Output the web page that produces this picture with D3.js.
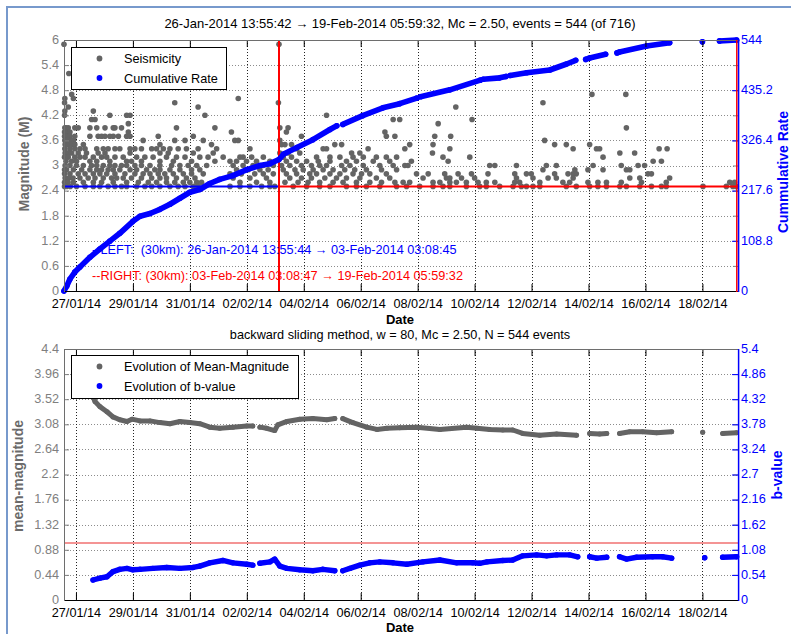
<!DOCTYPE html>
<html>
<head>
<meta charset="utf-8">
<script src="https://cdn.jsdelivr.net/npm/d3@7"></script>
<style>
  body { margin: 0; background: #fff; }
  svg { display: block; font-family: "Liberation Sans", Arial, sans-serif; }
</style>
</head>
<body>
<svg id="chart" width="791" height="634"></svg>
<script>
// ---- catalogue window and split ----
const startTime = Date.UTC(2014, 0, 26, 13, 55, 42);
const endTime = Date.UTC(2014, 1, 19, 5, 59, 32);
const dayZero = Date.UTC(2014, 0, 27);          // day offsets are counted from 27-Jan-2014 00:00
const splitDay = 7 + (3 * 3600 + 8 * 60 + 46) / 86400; // 03-Feb-2014 03:08:46
const mc = 2.5;
const bReference = 1.0;

// ---- tick values ----
const dateTickDays = [0, 2, 4, 6, 8, 10, 12, 14, 16, 18, 20, 22];
const magTicks = [0, 0.6, 1.2, 1.8, 2.4, 3, 3.6, 4.2, 4.8, 5.4, 6];
const cumTicks = [0, 108.8, 217.6, 326.4, 435.2, 544];
const meanTicks = [0, 0.44, 0.88, 1.32, 1.76, 2.2, 2.64, 3.08, 3.52, 3.96, 4.4];
const bTicks = [0, 0.54, 1.08, 1.62, 2.16, 2.7, 3.24, 3.78, 4.32, 4.86, 5.4];

// ---- seismicity: [magnitude, [event times in days]] ----
const seismicity = [
  [5.9, [-0.42, 7.13]],
  [5.2, [-0.25]],
  [4.7, [-0.15, 18.12, 19.31]],
  [4.6, [-0.39, -0.09, 5.70]],
  [4.5, [-0.40, 3.47, 7.11, 16.40]],
  [4.4, [-0.27, 4.29, 13.34]],
  [4.3, [-0.39, 0.61]],
  [4.2, [-0.40, 1.19, 1.78, 1.90, 4.53, 8.80]],
  [4.1, [0.55, 0.67, 11.14, 11.37, 13.91]],
  [4.0, [1.84, 12.72]],
  [3.9, [-0.39, -0.35, -0.27, -0.04, 0.08, 0.49, 0.73, 1.02, 1.31, 1.37, 1.60, 3.53, 4.88, 7.16, 7.45, 19.33]],
  [3.8, [-0.40, -0.33, -0.21, 1.84, 5.46, 7.39, 10.85]],
  [3.7, [-0.40, -0.33, -0.21, -0.04, 0.49, 0.78, 0.90, 1.02, 1.19, 1.31, 1.49, 1.78, 1.90, 2.89, 4.12, 7.92, 10.90, 11.20, 12.60, 13.16]],
  [3.6, [-0.39, -0.30, -0.18, -0.09, 2.36, 3.47, 3.83, 4.47, 5.58, 5.70, 7.16, 16.46]],
  [3.5, [-0.38, -0.33, -0.25, -0.12, -0.04, 0.26, 2.95, 4.76, 7.22, 7.34, 7.57, 9.09, 9.33, 11.72, 12.54, 16.81, 17.22, 18.04]],
  [3.4, [-0.39, -0.21, -0.04, 0.14, 0.32, 0.73, 0.96, 1.13, 1.37, 1.54, 1.90, 2.07, 2.30, 2.66, 2.83, 3.07, 3.30, 3.59, 3.88, 4.29, 4.94, 6.11, 7.75, 8.68, 8.80, 10.26, 11.55, 13.13, 17.46, 18.28, 18.39, 20.48, 20.76]],
  [3.3, [-0.38, -0.33, -0.27, -0.15, 0.08, 0.37, 0.78, 1.02, 1.90, 2.95, 3.24, 4.12, 4.82, 7.16, 7.45, 7.86, 9.68, 9.97, 12.52, 19.10, 19.62]],
  [3.2, [-0.40, -0.27, -0.04, 0.14, 0.32, 0.61, 0.90, 1.08, 1.37, 1.66, 2.13, 2.42, 2.71, 3.18, 3.53, 3.83, 4.35, 4.64, 5.17, 5.76, 5.87, 6.17, 6.58, 7.28, 7.57, 8.45, 8.92, 9.27, 9.73, 10.09, 10.55, 10.90, 11.26, 12.89, 13.83, 18.51]],
  [3.1, [-0.35, -0.15, 0.02, 0.49, 0.73, 1.19, 1.78, 1.95, 2.30, 2.95, 3.42, 4.06, 4.88, 5.41, 5.64, 5.99, 6.34, 6.81, 7.39, 7.75, 8.10, 8.51, 8.92, 9.50, 9.85, 10.44, 11.02, 11.78, 13.07, 20.27, 20.56]],
  [3.0, [-0.38, -0.21, 0.02, 0.26, 0.55, 0.73, 0.96, 1.19, 1.37, 1.60, 1.78, 2.07, 2.30, 2.60, 2.95, 3.36, 3.65, 3.94, 4.24, 4.59, 5.52, 5.87, 6.22, 6.58, 6.93, 7.22, 7.51, 7.92, 8.27, 8.56, 8.80, 9.33, 9.62, 10.09, 10.67, 11.14, 11.55, 11.66, 14.53, 14.71, 15.47, 16.52, 16.87, 18.16, 19.15, 19.74, 19.97]],
  [2.9, [-0.40, -0.33, -0.09, 0.20, 0.49, 0.73, 0.90, 1.13, 1.31, 1.54, 1.90, 2.13, 2.48, 2.77, 2.95, 3.30, 3.65, 4.06, 4.35, 5.64, 6.05, 6.46, 6.75, 7.28, 7.69, 7.98, 8.33, 8.68, 9.03, 9.44, 9.79, 10.20, 10.73, 11.26, 16.40, 17.52, 17.98, 18.51, 19.33, 19.45]],
  [2.8, [-0.40, -0.21, 0.08, 0.32, 0.61, 0.84, 1.08, 1.37, 1.72, 2.07, 2.36, 2.60, 2.89, 3.12, 3.42, 3.77, 4.06, 4.47, 5.41, 5.81, 6.28, 6.58, 6.93, 7.39, 7.75, 8.21, 8.45, 8.92, 9.27, 9.73, 10.03, 10.32, 10.90, 11.96, 12.37, 12.95, 13.42, 13.89, 14.47, 15.41, 15.82, 15.99, 16.81, 17.28, 17.46, 17.57, 20.09, 20.21]],
  [2.7, [-0.38, -0.25, -0.10, 0.14, 0.43, 0.67, 0.96, 1.25, 1.43, 1.66, 1.95, 2.30, 2.66, 2.95, 3.18, 3.53, 3.88, 4.18, 5.52, 6.11, 6.69, 7.51, 7.92, 8.27, 8.74, 9.15, 9.50, 9.97, 10.55, 11.02, 12.19, 13.01, 13.13, 13.54, 14.00, 15.47, 16.05, 16.58, 16.87, 17.46, 19.45, 19.80, 20.85]],
  [2.6, [-0.40, -0.28, -0.09, 0.26, 0.61, 0.90, 1.31, 1.78, 2.19, 2.54, 2.83, 3.18, 3.47, 3.77, 4.00, 4.24, 4.41, 5.76, 6.34, 6.81, 7.34, 7.80, 8.15, 8.56, 9.03, 9.38, 9.85, 10.32, 10.73, 11.20, 11.49, 11.72, 12.54, 12.78, 13.13, 13.36, 13.71, 14.12, 14.41, 14.71, 15.41, 15.58, 16.29, 17.10, 17.34, 17.98, 18.33, 18.63, 19.15, 19.86, 20.73, 22.96, 23.13]],
  [2.5, [-0.40, -0.33, -0.20, 0.02, 0.32, 0.61, 0.84, 1.13, 1.37, 1.60, 1.78, 2.13, 2.42, 2.66, 2.95, 3.30, 3.59, 3.83, 4.12, 4.29, 5.41, 5.76, 6.11, 6.52, 6.81, 6.98, 7.63, 8.10, 8.56, 8.92, 9.50, 9.85, 10.20, 10.67, 11.26, 11.61, 12.07, 12.54, 12.89, 13.13, 13.71, 14.18, 14.41, 14.88, 15.35, 15.64, 15.82, 16.05, 16.29, 17.22, 17.57, 18.04, 18.33, 18.63, 19.10, 19.33, 19.80, 20.21, 20.56, 20.73, 22.02, 22.84, 23.07, 23.19]]
];

// ---- cumulative number of events: [day, count], null = no events in between ----
const cumulativeRate = [
  [-0.42, 0], [-0.32, 11], [-0.21, 26], [-0.04, 41], [0.14, 52], [0.49, 73], [0.84, 91],
  [1.19, 108], [1.54, 125], [2.0, 151], [2.25, 162], [2.6, 168], [2.95, 177], [3.3, 188],
  [3.65, 201], [4.0, 214], [4.35, 220], [4.7, 233], [5.05, 242], [5.51, 250], [6.0, 263],
  [6.46, 272], [6.81, 276], [7.13, 285], [7.3, 297], [7.76, 311], [8.32, 328], [8.92, 350], [9.16, 358],
  null,
  [9.37, 361], [10.07, 380], [10.78, 397], [11.37, 406], [11.97, 418],
  null,
  [12.1, 421], [13.13, 436], [14.2, 457],
  null,
  [14.3, 459], [14.88, 462], [15.1, 465],
  null,
  [15.25, 467], [15.83, 473], [16.64, 479], [17.23, 492], [17.55, 500],
  null,
  [17.9, 502], [18.04, 505], [18.6, 513],
  null,
  [19.0, 516], [19.09, 518], [20.04, 531], [20.85, 538],
  null,
  [22.0, 540],
  null,
  [22.6, 542], [23.2, 544]
];

// ---- sliding-window results: [day, value] ----
const meanMagnitude = [
  [0.60, 3.56], [0.67, 3.48], [0.84, 3.39], [1.09, 3.30], [1.30, 3.21], [1.54, 3.16], [1.79, 3.13],
  [1.97, 3.17], [2.25, 3.14], [2.60, 3.14], [2.95, 3.11], [3.30, 3.09], [3.65, 3.13], [4.00, 3.11],
  [4.35, 3.09], [4.70, 3.03], [5.05, 3.01], [5.51, 3.03], [6.00, 3.05], [6.21, 3.05],
  null,
  [6.46, 3.03], [6.70, 3.01], [6.98, 2.97], [7.09, 3.07], [7.41, 3.13], [7.86, 3.17], [8.32, 3.18],
  [8.81, 3.16], [9.09, 3.18],
  null,
  [9.37, 3.18], [9.72, 3.11], [10.21, 3.03], [10.57, 2.99], [10.92, 3.01], [11.37, 3.02], [11.97, 3.03],
  [12.78, 2.99], [13.72, 3.03], [14.08, 3.01], [14.53, 2.99], [14.99, 2.98], [15.34, 2.98], [15.69, 2.92],
  [16.29, 2.89], [16.88, 2.91], [17.58, 2.89],
  null,
  [18.04, 2.92], [18.39, 2.91], [18.64, 2.92],
  null,
  [19.09, 2.92], [19.45, 2.95], [19.90, 2.95], [20.39, 2.93], [20.92, 2.95],
  null,
  [22.01, 2.94],
  null,
  [22.71, 2.92], [23.2, 2.93]
];

const bValue = [
  [0.60, 0.43], [0.84, 0.47], [1.09, 0.50], [1.30, 0.61], [1.54, 0.66], [1.79, 0.68], [2.00, 0.65],
  [2.25, 0.66], [2.70, 0.68], [3.19, 0.70], [3.65, 0.68], [4.11, 0.70], [4.35, 0.73], [4.70, 0.80],
  [5.16, 0.85], [5.51, 0.80], [6.00, 0.77], [6.21, 0.75],
  null,
  [6.46, 0.79], [6.81, 0.82], [6.98, 0.88], [7.16, 0.73], [7.41, 0.68], [7.86, 0.65], [8.32, 0.63],
  [8.67, 0.66], [9.09, 0.63],
  null,
  [9.37, 0.63], [9.62, 0.68], [9.97, 0.75], [10.32, 0.80], [10.67, 0.82], [11.13, 0.80], [11.62, 0.77],
  [12.18, 0.82], [12.78, 0.86], [13.37, 0.80], [13.93, 0.80], [14.18, 0.79], [14.43, 0.82], [14.99, 0.85],
  [15.34, 0.86], [15.69, 0.95], [16.18, 0.97], [16.53, 0.95], [16.88, 0.97], [17.34, 0.97], [17.62, 0.93],
  null,
  [18.04, 0.93], [18.29, 0.90], [18.64, 0.92],
  null,
  [19.09, 0.93], [19.34, 0.88], [19.69, 0.92], [20.25, 0.93], [20.60, 0.93], [20.92, 0.90],
  null,
  [22.08, 0.91],
  null,
  [22.71, 0.92], [23.2, 0.93]
];

// ---- layout ----
const svg = d3.select("#chart");
const L = 64, R = 738;
const top1 = 40, bot1 = 291, top2 = 349, bot2 = 600;
const FONT = "'Liberation Sans', Arial, sans-serif";
const FS = 12.7;
const GRAY = "#646464", AXGRAY = "#7f7f7f", BLUE = "#0000ff", RED = "#ff0000";

const toDate = d => new Date(dayZero + d * 864e5);
const x = d3.scaleTime().domain([new Date(startTime), new Date(endTime)]).range([L, R]);
const yMag = d3.scaleLinear().domain([0, 6]).range([bot1, top1]);
const yCum = d3.scaleLinear().domain([0, 544]).range([bot1, top1]);
const yMean = d3.scaleLinear().domain([0, 4.4]).range([bot2, top2]);
const yB = d3.scaleLinear().domain([0, 5.4]).range([bot2, top2]);
const crisp = v => Math.round(v) + 0.5;
const fmtDate = d3.utcFormat("%d/%m/%y");

svg.append("rect").attr("width", 791).attr("height", 634).attr("fill", "#fff");
// figure frame
svg.append("path").attr("d", "M7,634V7H791").attr("fill", "none")
  .attr("stroke", "#7799cc").attr("stroke-width", 2);

function drawGrid(top, bot, yScale, ticks) {
  const g = svg.append("g");
  g.selectAll("line.h").data(ticks.slice(1, -1)).join("line")
    .attr("x1", L).attr("x2", R)
    .attr("y1", v => crisp(yScale(v))).attr("y2", v => crisp(yScale(v)))
    .attr("stroke", "#8c8c8c").attr("stroke-dasharray", "1,2");
  g.selectAll("line.v").data(dateTickDays).join("line")
    .attr("x1", d => crisp(x(toDate(d)))).attr("x2", d => crisp(x(toDate(d))))
    .attr("y1", top).attr("y2", bot)
    .attr("stroke", "#222").attr("stroke-dasharray", "1,2");
}

function drawTrack(yScale, data, color, width) {
  const g = svg.append("g");
  const line = d3.line().defined(p => p !== null)
    .x(p => x(toDate(p[0]))).y(p => yScale(p[1]));
  g.append("path").datum(data).attr("d", line)
    .attr("fill", "none").attr("stroke", color).attr("stroke-width", width)
    .attr("stroke-linecap", "round").attr("stroke-linejoin", "round");
  g.selectAll("circle").data(data.filter(p => p !== null)).join("circle")
    .attr("cx", p => x(toDate(p[0]))).attr("cy", p => yScale(p[1]))
    .attr("r", width / 2).attr("fill", color);
}

function styleAxis(g, color, showText) {
  g.attr("font-family", FONT).attr("font-size", FS);
  g.select(".domain").remove();
  g.selectAll(".tick line").attr("stroke", color);
  if (showText) g.selectAll(".tick text").attr("fill", color);
  else g.selectAll(".tick text").remove();
}

function drawAxes(top, bot, yLeft, leftTicks, yRight, rightTicks, rightEdgeRed) {
  // x ticks, bottom (labelled) and top
  const xb = svg.append("g").attr("transform", `translate(0,${bot})`)
    .call(d3.axisBottom(x).tickValues(dateTickDays.map(toDate)).tickFormat(fmtDate).tickSize(-7).tickPadding(8));
  styleAxis(xb, "#000", true);
  const xt = svg.append("g").attr("transform", `translate(0,${top})`)
    .call(d3.axisTop(x).tickValues(dateTickDays.map(toDate)).tickSize(-7));
  styleAxis(xt, "#000", false);
  // left axis
  const yl = svg.append("g").attr("transform", `translate(${L},0)`)
    .call(d3.axisLeft(yLeft).tickValues(leftTicks).tickFormat(v => String(v)).tickSize(-5).tickPadding(5));
  styleAxis(yl, AXGRAY, true);
  yl.selectAll(".tick text").attr("dy", "0.26em");
  // mirrored ticks of the left axis on the right edge
  const ym = svg.append("g").attr("transform", `translate(${R},0)`)
    .call(d3.axisRight(yLeft).tickValues(leftTicks).tickSize(-5));
  styleAxis(ym, AXGRAY, false);
  // right axis
  const yr = svg.append("g").attr("transform", `translate(${R},0)`)
    .call(d3.axisRight(yRight).tickValues(rightTicks).tickFormat(v => String(v)).tickSize(-6).tickPadding(3));
  styleAxis(yr, BLUE, true);
  yr.selectAll(".tick text").attr("dy", "0.26em");
  // box
  svg.append("line").attr("x1", L).attr("x2", R).attr("y1", top + 0.5).attr("y2", top + 0.5).attr("stroke", "#6e6e6e");
  svg.append("line").attr("x1", L).attr("x2", R).attr("y1", bot + 0.5).attr("y2", bot + 0.5).attr("stroke", "#000");
  svg.append("line").attr("x1", L + 0.5).attr("x2", L + 0.5).attr("y1", top).attr("y2", bot + 1).attr("stroke", "#6e6e6e");
  if (rightEdgeRed) {
    svg.append("line").attr("x1", R - 1.2).attr("x2", R - 1.2).attr("y1", top).attr("y2", bot + 1)
      .attr("stroke", RED).attr("stroke-width", 1.5);
  }
  svg.append("line").attr("x1", R + 0.6).attr("x2", R + 0.6).attr("y1", top).attr("y2", bot + 1)
    .attr("stroke", BLUE).attr("stroke-width", 1.5);
}

function label(text, px, py, opts) {
  const t = svg.append("text").attr("x", px).attr("y", py).text(text)
    .attr("font-family", FONT).attr("font-size", opts.size || FS)
    .attr("fill", opts.color || "#000")
    .attr("text-anchor", opts.anchor || "start")
    .style("white-space", "pre");
  if (opts.bold) t.attr("font-weight", "bold");
  if (opts.rotate) t.attr("transform", `rotate(-90,${px},${py})`);
  return t;
}

function legend(x0, y0, w, h, entries) {
  svg.append("rect").attr("x", x0 + 0.5).attr("y", y0 + 0.5).attr("width", w).attr("height", h)
    .attr("fill", "#fff").attr("stroke", "#000");
  entries.forEach((e, i) => {
    const cy = y0 + 11.5 + i * 19.5;
    svg.append("circle").attr("cx", x0 + 28.5).attr("cy", cy).attr("r", 2.9).attr("fill", e.color);
    label(e.text, x0 + 53, cy + 4.6, {});
  });
}

// ================= upper panel =================
drawGrid(top1, bot1, yMag, magTicks);

const quakes = seismicity.flatMap(([m, days]) => days.map(d => ({ d, m })));
svg.append("g").selectAll("circle").data(quakes).join("circle")
  .attr("cx", q => x(toDate(q.d))).attr("cy", q => yMag(q.m))
  .attr("r", 2.8).attr("fill", GRAY);

// completeness magnitude, left and right of the split
svg.append("line").attr("x1", L).attr("x2", x(toDate(splitDay)))
  .attr("y1", yMag(mc)).attr("y2", yMag(mc)).attr("stroke", BLUE).attr("stroke-width", 2);
svg.append("line").attr("x1", x(toDate(splitDay))).attr("x2", R)
  .attr("y1", yMag(mc)).attr("y2", yMag(mc)).attr("stroke", RED).attr("stroke-width", 2);
svg.append("line").attr("x1", x(toDate(splitDay))).attr("x2", x(toDate(splitDay)))
  .attr("y1", top1).attr("y2", bot1).attr("stroke", RED).attr("stroke-width", 2);

label("--LEFT:  (30km): 26-Jan-2014 13:55:44 \u2192 03-Feb-2014 03:08:45", 92, 254, { color: BLUE });
label("--RIGHT: (30km): 03-Feb-2014 03:08:47 \u2192 19-Feb-2014 05:59:32", 92, 280, { color: RED });

drawTrack(yCum, cumulativeRate, BLUE, 5.6);
drawAxes(top1, bot1, yMag, magTicks, yCum, cumTicks, true);

label("26-Jan-2014 13:55:42 \u2192 19-Feb-2014 05:59:32, Mc = 2.50, events = 544 (of 716)", 400, 28,
  { anchor: "middle", size: 13 });
label("Date", 400, 323.5, { anchor: "middle", bold: true, size: 13 });
label("Magnitude (M)", 29, 164, { anchor: "middle", bold: true, size: 14, rotate: true, color: "#6a6a6a" });
label("Cummulative Rate", 788, 172, { anchor: "middle", bold: true, size: 14, rotate: true, color: BLUE });

legend(71, 47, 155, 42, [
  { text: "Seismicity", color: GRAY },
  { text: "Cumulative Rate", color: BLUE }
]);

// ================= lower panel =================
drawGrid(top2, bot2, yMean, meanTicks);
svg.append("line").attr("x1", L).attr("x2", R)
  .attr("y1", yMean(bReference)).attr("y2", yMean(bReference))
  .attr("stroke", "#f07070").attr("stroke-width", 1.6);

drawTrack(yMean, meanMagnitude, GRAY, 5);
drawTrack(yB, bValue, BLUE, 5.4);
drawAxes(top2, bot2, yMean, meanTicks, yB, bTicks, false);

label("backward sliding method, w = 80, Mc = 2.50, N = 544 events", 400, 338.5, { anchor: "middle", size: 12.7 });
label("Date", 400, 632, { anchor: "middle", bold: true, size: 13 });
label("mean-magnitude", 23, 476, { anchor: "middle", bold: true, size: 14, rotate: true, color: "#6a6a6a" });
label("b-value", 781.5, 475, { anchor: "middle", bold: true, size: 14, rotate: true, color: BLUE });

legend(71, 355, 227, 43, [
  { text: "Evolution of Mean-Magnitude", color: GRAY },
  { text: "Evolution of b-value", color: BLUE }
]);
</script>
</body>
</html>
